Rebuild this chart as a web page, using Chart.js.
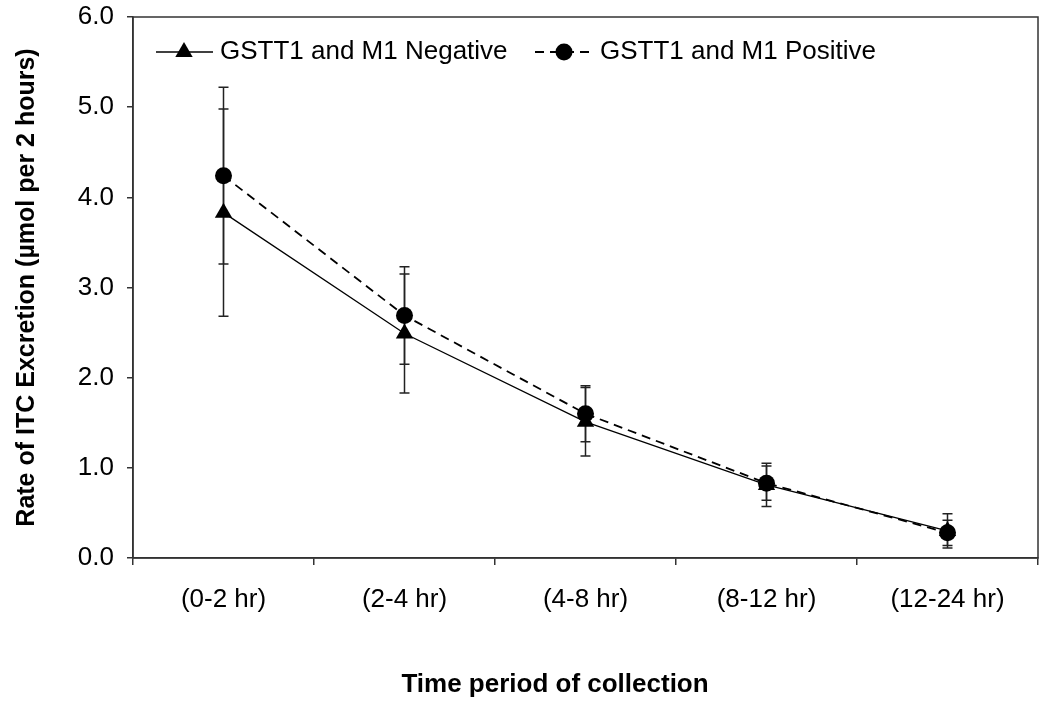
<!DOCTYPE html>
<html>
<head>
<meta charset="utf-8">
<script src="https://cdn.jsdelivr.net/npm/chart.js@4"></script>
<style>
  body { margin: 0; background: #fff; }
</style>
</head>
<body>
<canvas id="myChart" width="1050" height="711"></canvas>
<script>
const periods = ['(0-2 hr)', '(2-4 hr)', '(4-8 hr)', '(8-12 hr)', '(12-24 hr)'];
const negative = [3.83, 2.49, 1.51, 0.81, 0.30];
const negativeErr = [1.15, 0.66, 0.38, 0.24, 0.19];
const positive = [4.24, 2.69, 1.60, 0.83, 0.28];
const positiveErr = [0.98, 0.54, 0.31, 0.19, 0.14];
const yMin = 0;
const yMax = 6;
const yStep = 1;

const fontFamily = 'Arial, "Liberation Sans", sans-serif';
const frameColor = '#333';

// whiskers drawn behind the markers
const errorBars = {
    id: 'errorBars',
    beforeDatasetsDraw(chart) {
        const ctx = chart.ctx;
        const y = chart.scales.y;
        chart.data.datasets.forEach((ds, i) => {
            const meta = chart.getDatasetMeta(i);
            meta.data.forEach((pt, j) => {
                const top = y.getPixelForValue(ds.data[j] + ds.errors[j]);
                const bot = y.getPixelForValue(ds.data[j] - ds.errors[j]);
                ctx.save();
                ctx.strokeStyle = '#222';
                ctx.lineWidth = 1.5;
                ctx.beginPath();
                ctx.moveTo(pt.x, top); ctx.lineTo(pt.x, bot);
                ctx.moveTo(pt.x - 5, top); ctx.lineTo(pt.x + 5, top);
                ctx.moveTo(pt.x - 5, bot); ctx.lineTo(pt.x + 5, bot);
                ctx.stroke();
                ctx.restore();
            });
        });
    }
};

// box round the plot, the legend and the x title
const extras = {
    id: 'extras',
    afterDraw(chart) {
        const ctx = chart.ctx;
        const a = chart.chartArea;
        ctx.save();
        ctx.strokeStyle = frameColor;
        ctx.lineWidth = 1.5;
        ctx.strokeRect(a.left, a.top, a.right - a.left, a.bottom - a.top);

        const ly = a.top + 35;
        ctx.strokeStyle = '#000';
        ctx.fillStyle = '#000';
        // negative item
        ctx.lineWidth = 1.3;
        ctx.beginPath(); ctx.moveTo(a.left + 23, ly); ctx.lineTo(a.left + 80, ly); ctx.stroke();
        const tx = a.left + 51;
        ctx.beginPath();
        ctx.moveTo(tx, ly - 10); ctx.lineTo(tx + 8.7, ly + 5); ctx.lineTo(tx - 8.7, ly + 5);
        ctx.closePath(); ctx.fill();
        // positive item
        ctx.lineWidth = 1.8;
        ctx.setLineDash([9, 6]);
        ctx.beginPath(); ctx.moveTo(a.left + 402, ly); ctx.lineTo(a.left + 460, ly); ctx.stroke();
        ctx.setLineDash([]);
        ctx.beginPath(); ctx.arc(a.left + 431, ly, 8.5, 0, Math.PI * 2); ctx.fill();

        ctx.font = '26px ' + fontFamily;
        ctx.textBaseline = 'middle';
        ctx.textAlign = 'left';
        ctx.fillText(chart.data.datasets[0].label, a.left + 87, ly);
        ctx.fillText(chart.data.datasets[1].label, a.left + 467, ly);

        ctx.font = 'bold 26px ' + fontFamily;
        ctx.textAlign = 'center';
        ctx.fillText('Time period of collection', 555, 685);
        ctx.restore();
    }
};

new Chart(document.getElementById('myChart'), {
    type: 'line',
    data: {
        labels: periods,
        datasets: [
            {
                label: 'GSTT1 and M1 Negative',
                data: negative,
                errors: negativeErr,
                borderColor: '#000',
                borderWidth: 1.3,
                pointStyle: 'triangle',
                pointRadius: 10,
                pointBackgroundColor: '#000',
                pointBorderColor: '#000',
                pointBorderWidth: 0,
                order: 1,
            },
            {
                label: 'GSTT1 and M1 Positive',
                data: positive,
                errors: positiveErr,
                borderColor: '#000',
                borderWidth: 1.8,
                borderDash: [9, 6],
                pointStyle: 'circle',
                pointRadius: 8.5,
                pointBackgroundColor: '#000',
                pointBorderColor: '#000',
                pointBorderWidth: 0,
                order: 0,
            },
        ],
    },
    options: {
        responsive: false,
        animation: false,
        layout: { padding: { top: 17, right: 12, left: 0, bottom: 0 } },
        plugins: {
            legend: { display: false },
            tooltip: { enabled: false },
        },
        scales: {
            x: {
                offset: true,
                grid: { offset: true, drawOnChartArea: false, tickLength: 7, color: frameColor, lineWidth: 1.5 },
                border: { color: frameColor, width: 1.5 },
                ticks: { color: '#000', font: { family: fontFamily, size: 26 }, padding: 19, maxRotation: 0 },
                afterFit(scale) {
                    scale.height = 153;
                    scale.paddingLeft = 0;
                    scale.paddingRight = 0;
                },
            },
            y: {
                min: yMin,
                max: yMax,
                grid: { drawOnChartArea: false, tickLength: 6, color: frameColor, lineWidth: 1.5 },
                border: { color: frameColor, width: 1.5 },
                ticks: {
                    stepSize: yStep,
                    color: '#000',
                    font: { family: fontFamily, size: 26 },
                    padding: 13,
                    callback: (v) => v.toFixed(1),
                },
                title: {
                    display: true,
                    text: 'Rate of ITC Excretion (µmol per 2 hours)',
                    color: '#000',
                    font: { family: fontFamily, size: 25, weight: 'bold' },
                    padding: { top: 12, bottom: 0 },
                },
                afterFit(scale) {
                    scale.width = 133;
                    scale.paddingTop = 0;
                    scale.paddingBottom = 0;
                },
            },
        },
    },
    plugins: [errorBars, extras],
});
</script>
</body>
</html>
